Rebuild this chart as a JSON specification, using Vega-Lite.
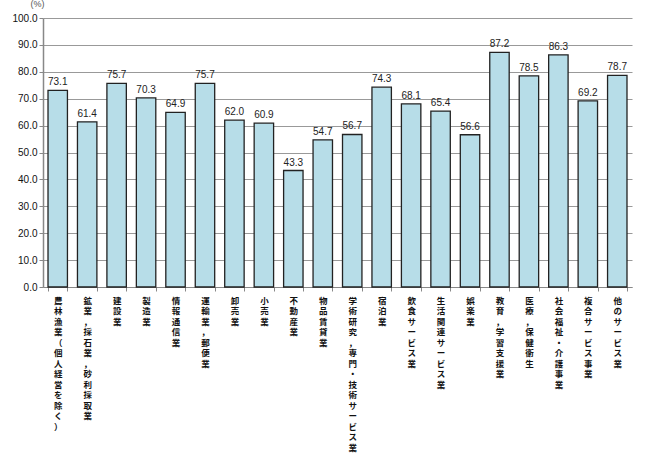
{
  "$schema": "https://vega.github.io/schema/vega-lite/v6.json",
  "width": 589,
  "height": 269,
  "autosize": {"type": "none"},
  "padding": {"left": 43, "top": 18, "right": 16, "bottom": 178},
  "background": "white",
  "config": {"view": {"stroke": null}},
  "data": {"values": [
    {"industry": "農林漁業（個人経営を除く）", "value": 73.1},
    {"industry": "鉱業，採石業，砂利採取業", "value": 61.4},
    {"industry": "建設業", "value": 75.7},
    {"industry": "製造業", "value": 70.3},
    {"industry": "情報通信業", "value": 64.9},
    {"industry": "運輸業，郵便業", "value": 75.7},
    {"industry": "卸売業", "value": 62.0},
    {"industry": "小売業", "value": 60.9},
    {"industry": "不動産業", "value": 43.3},
    {"industry": "物品賃貸業", "value": 54.7},
    {"industry": "学術研究，専門・技術サービス業", "value": 56.7},
    {"industry": "宿泊業", "value": 74.3},
    {"industry": "飲食サービス業", "value": 68.1},
    {"industry": "生活関連サービス業", "value": 65.4},
    {"industry": "娯楽業", "value": 56.6},
    {"industry": "教育，学習支援業", "value": 87.2},
    {"industry": "医療，保健衛生", "value": 78.5},
    {"industry": "社会福祉・介護事業", "value": 86.3},
    {"industry": "複合サービス事業", "value": 69.2},
    {"industry": "他のサービス業", "value": 78.7}
  ]},
  "encoding": {
    "x": {
      "field": "industry", "type": "nominal", "sort": null,
      "scale": {"paddingInner": 0.34, "paddingOuter": 0.17},
      "axis": {
        "title": null, "labelAngle": 0, "labelAlign": "center", "labelBaseline": "top",
        "labelExpr": "split(datum.label, '')",
        "labelFont": "Noto Sans CJK JP", "labelFontSize": 8.5, "labelFontWeight": "bold", "labelLineHeight": 10.5,
        "labelColor": "#111", "labelPadding": 5, "labelLimit": 0, "labelOverlap": false,
        "tickBand": "extent", "tickColor": "#888", "tickSize": 4,
        "domainColor": "#888", "domainWidth": 1.2, "grid": false
      }
    },
    "y": {
      "field": "value", "type": "quantitative",
      "scale": {"domain": [0, 100], "nice": false},
      "axis": {
        "values": [0, 10, 20, 30, 40, 50, 60, 70, 80, 90, 100],
        "format": ".1f", "title": "(%)", "titleAngle": 0, "titleX": -6, "titleY": -10,
        "titleFont": "Liberation Sans", "titleFontSize": 9, "titleFontWeight": "normal", "titleColor": "#555",
        "labelFont": "Liberation Sans", "labelFontSize": 10, "labelColor": "#111",
        "grid": true, "gridColor": "#999", "gridWidth": 1,
        "domainColor": "#888", "domainWidth": 1.5, "tickColor": "#888", "tickSize": 4
      }
    }
  },
  "layer": [
    {"mark": {"type": "bar", "fill": "#b7dde8", "stroke": "#222", "strokeWidth": 1.3}},
    {"mark": {"type": "text", "dy": -8, "font": "Liberation Sans", "fontSize": 10, "color": "#222"},
     "encoding": {"text": {"field": "value", "type": "quantitative", "format": ".1f"}}}
  ]
}
